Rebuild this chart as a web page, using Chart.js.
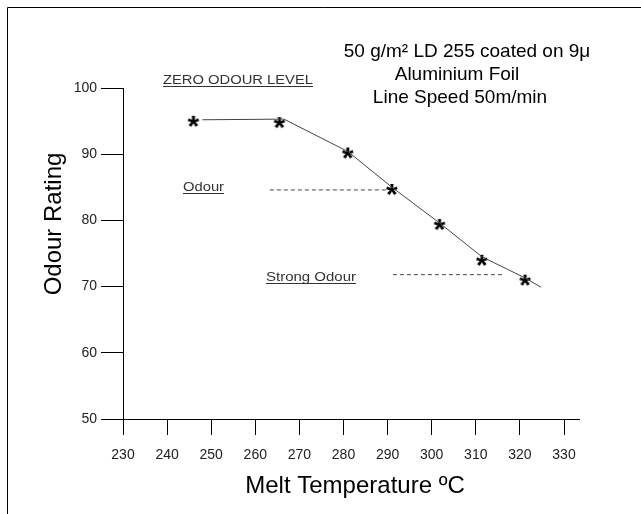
<!DOCTYPE html>
<html lang="en">
<head>
  <meta charset="UTF-8">
  <title>Odour Rating vs Melt Temperature</title>
  <script src="https://cdn.jsdelivr.net/npm/chart.js"></script>
  <style>
    body { margin: 0; background: #fff; }
    canvas { display: block; }
  </style>
</head>
<body>
  <canvas id="odourChart" width="641" height="514"></canvas>

  <script>
    // measured points (stars)
    const temps = [246, 265.5, 281, 291, 301.8, 311.4, 321.2];
    const ratings = [94.9, 94.7, 90.1, 84.6, 79.3, 73.9, 70.9];

    // hand-drawn trend line through the points
    const lineTemps = [248, 266.5, 281, 291, 301.8, 311.4, 321.2, 324.8];
    const lineRatings = [95.2, 95.3, 90.4, 85.0, 79.6, 74.5, 71.3, 69.9];

    // odour threshold guides
    const odourX = [263.3, 290];
    const odourY = [84.6, 84.6];
    const strongX = [291.2, 316.2];
    const strongY = [71.8, 71.8];

    const xTicks = [230, 240, 250, 260, 270, 280, 290, 300, 310, 320, 330];
    const yTicks = [50, 60, 70, 80, 90, 100];

    const titleLines = ['50 g/m\u00B2 LD 255 coated on 9\u03BC', 'Aluminium Foil', 'Line Speed 50m/min'];
    const xTitle = 'Melt Temperature \u00BAC';
    const yTitle = 'Odour Rating';

    const toPts = (xs, ys) => xs.map((x, i) => ({ x, y: ys[i] }));

    // asterisk marker
    function makeStar() {
      const c = document.createElement('canvas');
      c.width = 16; c.height = 16;
      const g = c.getContext('2d');
      g.font = 'bold 30px Arial';
      g.fillStyle = '#000';
      const m = g.measureText('*');
      const w = m.actualBoundingBoxLeft + m.actualBoundingBoxRight;
      const h = m.actualBoundingBoxAscent + m.actualBoundingBoxDescent;
      g.fillText('*', 8 - w / 2 + m.actualBoundingBoxLeft, 8 - h / 2 + m.actualBoundingBoxAscent);
      return c;
    }
    const star = makeStar();

    function fitText(ctx, text, x, y, width, font, color, underline) {
      ctx.save();
      ctx.font = font;
      ctx.fillStyle = color;
      ctx.textBaseline = 'alphabetic';
      ctx.textAlign = 'left';
      const w = ctx.measureText(text).width;
      ctx.translate(x, y);
      ctx.scale(width / w, 1);
      ctx.fillText(text, 0, 0);
      ctx.restore();
      if (underline) {
        ctx.save();
        ctx.strokeStyle = color;
        ctx.lineWidth = 1;
        ctx.beginPath();
        ctx.moveTo(x, y + 2.5);
        ctx.lineTo(x + width, y + 2.5);
        ctx.stroke();
        ctx.restore();
      }
    }

    const textPlugin = {
      id: 'texts',
      afterDraw(chart) {
        const ctx = chart.ctx;
        // frame edges
        ctx.save();
        ctx.strokeStyle = '#000';
        ctx.lineWidth = 1;
        ctx.beginPath();
        ctx.moveTo(7.5, 514);
        ctx.lineTo(7.5, 7.5);
        ctx.lineTo(641, 7.5);
        ctx.stroke();
        // x axis runs on past the last tick
        const xs = chart.scales.x, ys = chart.scales.y;
        const ax = xs.getPixelForValue(330), ay = Math.round(ys.getPixelForValue(50)) + 0.5;
        ctx.beginPath();
        ctx.moveTo(ax, ay);
        ctx.lineTo(ax + 16, ay);
        ctx.stroke();
        ctx.restore();

        // title block
        ctx.save();
        ctx.fillStyle = '#000';
        ctx.font = '19px Arial';
        ctx.textAlign = 'center';
        ctx.textBaseline = 'alphabetic';
        ctx.fillText(titleLines[0], 467, 57);
        ctx.fillText(titleLines[1], 457, 80);
        ctx.fillText(titleLines[2], 460, 103);

        // axis titles
        ctx.font = '24px Arial';
        ctx.fillText(xTitle, 355, 493);
        ctx.translate(61, 224);
        ctx.rotate(-Math.PI / 2);
        ctx.fillText(yTitle, 0, 0);
        ctx.restore();

        // annotations
        fitText(ctx, 'ZERO ODOUR LEVEL', 163, 84, 150, '12px Arial', '#333', true);
        fitText(ctx, 'Odour', 183, 191, 41, '12px Arial', '#333', true);
        fitText(ctx, 'Strong Odour', 266, 281, 90, '12px Arial', '#333', true);
      }
    };

    new Chart(document.getElementById('odourChart'), {
      type: 'scatter',
      data: {
        datasets: [
          {
            data: toPts(lineTemps, lineRatings),
            showLine: true,
            borderColor: '#444',
            borderWidth: 1,
            pointRadius: 0,
            tension: 0
          },
          {
            data: toPts(odourX, odourY),
            showLine: true,
            borderColor: '#444',
            borderWidth: 1,
            borderDash: [4, 3],
            pointRadius: 0
          },
          {
            data: toPts(strongX, strongY),
            showLine: true,
            borderColor: '#444',
            borderWidth: 1,
            borderDash: [4, 3],
            pointRadius: 0
          },
          {
            data: toPts(temps, ratings),
            showLine: false,
            pointStyle: star,
            pointRadius: 6
          }
        ]
      },
      plugins: [textPlugin],
      options: {
        responsive: false,
        animation: false,
        layout: { padding: { top: 88, right: 77, left: 0, bottom: 0 } },
        plugins: {
          legend: { display: false },
          tooltip: { enabled: false }
        },
        scales: {
          x: {
            type: 'linear',
            min: 230,
            max: 330,
            afterBuildTicks: s => { s.ticks = xTicks.map(v => ({ value: v })); },
            afterFit: s => { s.height = 95; },
            grid: { drawOnChartArea: false, tickLength: 16, color: '#000' },
            border: { color: '#000' },
            ticks: { color: '#222', font: { family: 'Arial', size: 14 }, padding: 12, maxRotation: 0 }
          },
          y: {
            min: 50,
            max: 100,
            afterBuildTicks: s => { s.ticks = yTicks.map(v => ({ value: v })); },
            afterFit: s => { s.width = 123; },
            grid: { drawOnChartArea: false, tickLength: 22, color: '#000' },
            border: { color: '#000' },
            ticks: { color: '#222', font: { family: 'Arial', size: 14 }, padding: 4 }
          }
        }
      }
    });
  </script>
</body>
</html>
